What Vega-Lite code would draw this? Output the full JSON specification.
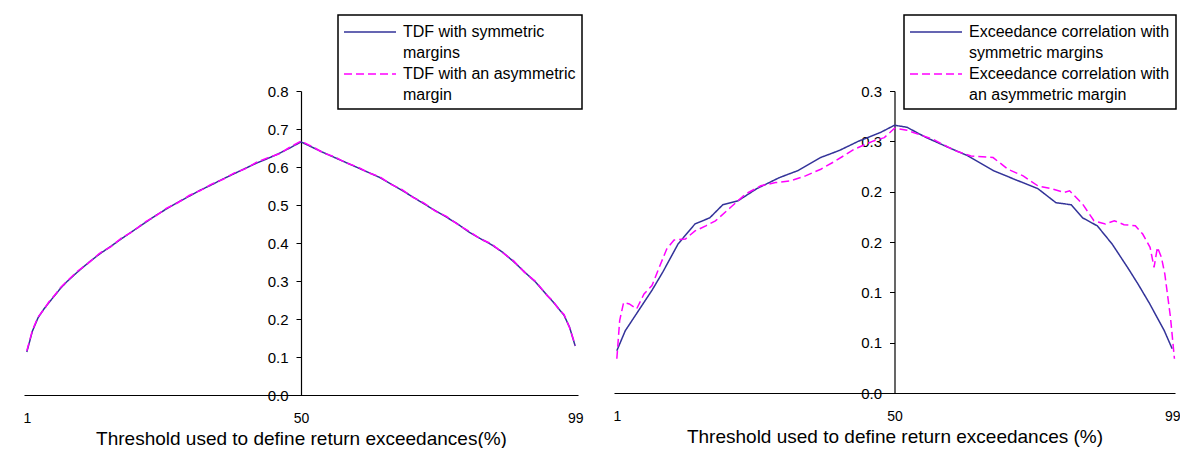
{
  "$schema": "https://vega.github.io/schema/vega-lite/v6.json",
  "background": "white",
  "padding": {"left": 22, "top": 14, "right": 0, "bottom": 0},
  "spacing": 36,
  "bounds": "flush",
  "resolve": {
    "scale": {"color": "independent", "strokeDash": "independent", "x": "independent", "y": "independent"},
    "legend": {"color": "independent", "strokeDash": "independent"}
  },
  "config": {
    "view": {"stroke": null},
    "font": "Liberation Sans",
    "style": {"guide-label": {"lineHeight": 21}},
    "axis": {
      "grid": false,
      "domainColor": "black",
      "domainWidth": 1.2,
      "tickColor": "black",
      "labelColor": "black",
      "labelFont": "Liberation Sans",
      "labelFontSize": 15,
      "titleFont": "Liberation Sans",
      "titleFontSize": 19,
      "titleFontWeight": "normal",
      "titleColor": "black"
    },
    "legend": {
      "orient": "none",
      "legendY": -76,
      "fillColor": "white",
      "strokeColor": "black",
      "strokeWidth": 1.5,
      "padding": 6,
      "symbolType": "M-2.6,0H2.6",
      "symbolSize": 400,
      "symbolOffset": 15,
      "symbolStrokeWidth": 1.5,
      "labelFont": "Liberation Sans",
      "labelFontSize": 16,
      "labelColor": "black",
      "labelOffset": 22,
      "labelLimit": 400,
      "rowPadding": 2,
      "title": null
    }
  },
  "datasets": {
    "tdf": [
      {"x": 1, "v": 0.113, "s": "TDF with symmetric|margins"},
      {"x": 2, "v": 0.168, "s": "TDF with symmetric|margins"},
      {"x": 3, "v": 0.203, "s": "TDF with symmetric|margins"},
      {"x": 4, "v": 0.225, "s": "TDF with symmetric|margins"},
      {"x": 5, "v": 0.244, "s": "TDF with symmetric|margins"},
      {"x": 6, "v": 0.262, "s": "TDF with symmetric|margins"},
      {"x": 7, "v": 0.280, "s": "TDF with symmetric|margins"},
      {"x": 8, "v": 0.296, "s": "TDF with symmetric|margins"},
      {"x": 10, "v": 0.323, "s": "TDF with symmetric|margins"},
      {"x": 12, "v": 0.348, "s": "TDF with symmetric|margins"},
      {"x": 14, "v": 0.371, "s": "TDF with symmetric|margins"},
      {"x": 16, "v": 0.391, "s": "TDF with symmetric|margins"},
      {"x": 18, "v": 0.412, "s": "TDF with symmetric|margins"},
      {"x": 20, "v": 0.432, "s": "TDF with symmetric|margins"},
      {"x": 22, "v": 0.452, "s": "TDF with symmetric|margins"},
      {"x": 24, "v": 0.472, "s": "TDF with symmetric|margins"},
      {"x": 26, "v": 0.490, "s": "TDF with symmetric|margins"},
      {"x": 28, "v": 0.507, "s": "TDF with symmetric|margins"},
      {"x": 30, "v": 0.523, "s": "TDF with symmetric|margins"},
      {"x": 32, "v": 0.539, "s": "TDF with symmetric|margins"},
      {"x": 34, "v": 0.553, "s": "TDF with symmetric|margins"},
      {"x": 36, "v": 0.568, "s": "TDF with symmetric|margins"},
      {"x": 38, "v": 0.582, "s": "TDF with symmetric|margins"},
      {"x": 40, "v": 0.596, "s": "TDF with symmetric|margins"},
      {"x": 42, "v": 0.610, "s": "TDF with symmetric|margins"},
      {"x": 44, "v": 0.622, "s": "TDF with symmetric|margins"},
      {"x": 46, "v": 0.635, "s": "TDF with symmetric|margins"},
      {"x": 48, "v": 0.650, "s": "TDF with symmetric|margins"},
      {"x": 50, "v": 0.666, "s": "TDF with symmetric|margins"},
      {"x": 52, "v": 0.652, "s": "TDF with symmetric|margins"},
      {"x": 54, "v": 0.638, "s": "TDF with symmetric|margins"},
      {"x": 56, "v": 0.625, "s": "TDF with symmetric|margins"},
      {"x": 58, "v": 0.612, "s": "TDF with symmetric|margins"},
      {"x": 60, "v": 0.599, "s": "TDF with symmetric|margins"},
      {"x": 62, "v": 0.586, "s": "TDF with symmetric|margins"},
      {"x": 64, "v": 0.573, "s": "TDF with symmetric|margins"},
      {"x": 66, "v": 0.556, "s": "TDF with symmetric|margins"},
      {"x": 68, "v": 0.539, "s": "TDF with symmetric|margins"},
      {"x": 70, "v": 0.521, "s": "TDF with symmetric|margins"},
      {"x": 72, "v": 0.503, "s": "TDF with symmetric|margins"},
      {"x": 74, "v": 0.485, "s": "TDF with symmetric|margins"},
      {"x": 76, "v": 0.468, "s": "TDF with symmetric|margins"},
      {"x": 78, "v": 0.450, "s": "TDF with symmetric|margins"},
      {"x": 80, "v": 0.429, "s": "TDF with symmetric|margins"},
      {"x": 82, "v": 0.412, "s": "TDF with symmetric|margins"},
      {"x": 84, "v": 0.396, "s": "TDF with symmetric|margins"},
      {"x": 86, "v": 0.376, "s": "TDF with symmetric|margins"},
      {"x": 88, "v": 0.351, "s": "TDF with symmetric|margins"},
      {"x": 90, "v": 0.323, "s": "TDF with symmetric|margins"},
      {"x": 92, "v": 0.296, "s": "TDF with symmetric|margins"},
      {"x": 94, "v": 0.262, "s": "TDF with symmetric|margins"},
      {"x": 95, "v": 0.246, "s": "TDF with symmetric|margins"},
      {"x": 96, "v": 0.228, "s": "TDF with symmetric|margins"},
      {"x": 97, "v": 0.210, "s": "TDF with symmetric|margins"},
      {"x": 98, "v": 0.178, "s": "TDF with symmetric|margins"},
      {"x": 99, "v": 0.129, "s": "TDF with symmetric|margins"},
      {"x": 1, "v": 0.116, "s": "TDF with an asymmetric|margin"},
      {"x": 2, "v": 0.170, "s": "TDF with an asymmetric|margin"},
      {"x": 3, "v": 0.205, "s": "TDF with an asymmetric|margin"},
      {"x": 4, "v": 0.224, "s": "TDF with an asymmetric|margin"},
      {"x": 5, "v": 0.246, "s": "TDF with an asymmetric|margin"},
      {"x": 6, "v": 0.263, "s": "TDF with an asymmetric|margin"},
      {"x": 7, "v": 0.282, "s": "TDF with an asymmetric|margin"},
      {"x": 8, "v": 0.297, "s": "TDF with an asymmetric|margin"},
      {"x": 10, "v": 0.325, "s": "TDF with an asymmetric|margin"},
      {"x": 12, "v": 0.347, "s": "TDF with an asymmetric|margin"},
      {"x": 14, "v": 0.373, "s": "TDF with an asymmetric|margin"},
      {"x": 16, "v": 0.390, "s": "TDF with an asymmetric|margin"},
      {"x": 18, "v": 0.414, "s": "TDF with an asymmetric|margin"},
      {"x": 20, "v": 0.431, "s": "TDF with an asymmetric|margin"},
      {"x": 22, "v": 0.454, "s": "TDF with an asymmetric|margin"},
      {"x": 24, "v": 0.471, "s": "TDF with an asymmetric|margin"},
      {"x": 26, "v": 0.492, "s": "TDF with an asymmetric|margin"},
      {"x": 28, "v": 0.506, "s": "TDF with an asymmetric|margin"},
      {"x": 30, "v": 0.525, "s": "TDF with an asymmetric|margin"},
      {"x": 32, "v": 0.538, "s": "TDF with an asymmetric|margin"},
      {"x": 34, "v": 0.555, "s": "TDF with an asymmetric|margin"},
      {"x": 36, "v": 0.567, "s": "TDF with an asymmetric|margin"},
      {"x": 38, "v": 0.584, "s": "TDF with an asymmetric|margin"},
      {"x": 40, "v": 0.595, "s": "TDF with an asymmetric|margin"},
      {"x": 42, "v": 0.612, "s": "TDF with an asymmetric|margin"},
      {"x": 44, "v": 0.624, "s": "TDF with an asymmetric|margin"},
      {"x": 46, "v": 0.634, "s": "TDF with an asymmetric|margin"},
      {"x": 48, "v": 0.652, "s": "TDF with an asymmetric|margin"},
      {"x": 50, "v": 0.668, "s": "TDF with an asymmetric|margin"},
      {"x": 52, "v": 0.654, "s": "TDF with an asymmetric|margin"},
      {"x": 54, "v": 0.637, "s": "TDF with an asymmetric|margin"},
      {"x": 56, "v": 0.627, "s": "TDF with an asymmetric|margin"},
      {"x": 58, "v": 0.611, "s": "TDF with an asymmetric|margin"},
      {"x": 60, "v": 0.601, "s": "TDF with an asymmetric|margin"},
      {"x": 62, "v": 0.585, "s": "TDF with an asymmetric|margin"},
      {"x": 64, "v": 0.575, "s": "TDF with an asymmetric|margin"},
      {"x": 66, "v": 0.555, "s": "TDF with an asymmetric|margin"},
      {"x": 68, "v": 0.541, "s": "TDF with an asymmetric|margin"},
      {"x": 70, "v": 0.520, "s": "TDF with an asymmetric|margin"},
      {"x": 72, "v": 0.505, "s": "TDF with an asymmetric|margin"},
      {"x": 74, "v": 0.484, "s": "TDF with an asymmetric|margin"},
      {"x": 76, "v": 0.470, "s": "TDF with an asymmetric|margin"},
      {"x": 78, "v": 0.449, "s": "TDF with an asymmetric|margin"},
      {"x": 80, "v": 0.431, "s": "TDF with an asymmetric|margin"},
      {"x": 82, "v": 0.411, "s": "TDF with an asymmetric|margin"},
      {"x": 84, "v": 0.398, "s": "TDF with an asymmetric|margin"},
      {"x": 86, "v": 0.375, "s": "TDF with an asymmetric|margin"},
      {"x": 88, "v": 0.353, "s": "TDF with an asymmetric|margin"},
      {"x": 90, "v": 0.322, "s": "TDF with an asymmetric|margin"},
      {"x": 92, "v": 0.298, "s": "TDF with an asymmetric|margin"},
      {"x": 94, "v": 0.261, "s": "TDF with an asymmetric|margin"},
      {"x": 95, "v": 0.248, "s": "TDF with an asymmetric|margin"},
      {"x": 96, "v": 0.227, "s": "TDF with an asymmetric|margin"},
      {"x": 97, "v": 0.212, "s": "TDF with an asymmetric|margin"},
      {"x": 98, "v": 0.177, "s": "TDF with an asymmetric|margin"},
      {"x": 99, "v": 0.131, "s": "TDF with an asymmetric|margin"}
    ],
    "exc": [
      {"x": 1, "v": 0.042, "s": "Exceedance correlation with|symmetric margins"},
      {"x": 2.5, "v": 0.062, "s": "Exceedance correlation with|symmetric margins"},
      {"x": 4.5, "v": 0.079, "s": "Exceedance correlation with|symmetric margins"},
      {"x": 7.2, "v": 0.102, "s": "Exceedance correlation with|symmetric margins"},
      {"x": 9.1, "v": 0.120, "s": "Exceedance correlation with|symmetric margins"},
      {"x": 11.8, "v": 0.148, "s": "Exceedance correlation with|symmetric margins"},
      {"x": 14.8, "v": 0.168, "s": "Exceedance correlation with|symmetric margins"},
      {"x": 17.4, "v": 0.174, "s": "Exceedance correlation with|symmetric margins"},
      {"x": 19.7, "v": 0.187, "s": "Exceedance correlation with|symmetric margins"},
      {"x": 22.4, "v": 0.191, "s": "Exceedance correlation with|symmetric margins"},
      {"x": 25.7, "v": 0.203, "s": "Exceedance correlation with|symmetric margins"},
      {"x": 29.7, "v": 0.214, "s": "Exceedance correlation with|symmetric margins"},
      {"x": 33, "v": 0.221, "s": "Exceedance correlation with|symmetric margins"},
      {"x": 37, "v": 0.234, "s": "Exceedance correlation with|symmetric margins"},
      {"x": 40.3, "v": 0.241, "s": "Exceedance correlation with|symmetric margins"},
      {"x": 43.6, "v": 0.250, "s": "Exceedance correlation with|symmetric margins"},
      {"x": 47.6, "v": 0.259, "s": "Exceedance correlation with|symmetric margins"},
      {"x": 50, "v": 0.266, "s": "Exceedance correlation with|symmetric margins"},
      {"x": 52.2, "v": 0.264, "s": "Exceedance correlation with|symmetric margins"},
      {"x": 55.5, "v": 0.254, "s": "Exceedance correlation with|symmetric margins"},
      {"x": 59.5, "v": 0.244, "s": "Exceedance correlation with|symmetric margins"},
      {"x": 62.8, "v": 0.236, "s": "Exceedance correlation with|symmetric margins"},
      {"x": 67.4, "v": 0.221, "s": "Exceedance correlation with|symmetric margins"},
      {"x": 71.3, "v": 0.212, "s": "Exceedance correlation with|symmetric margins"},
      {"x": 75.3, "v": 0.203, "s": "Exceedance correlation with|symmetric margins"},
      {"x": 78.5, "v": 0.189, "s": "Exceedance correlation with|symmetric margins"},
      {"x": 81.2, "v": 0.187, "s": "Exceedance correlation with|symmetric margins"},
      {"x": 83.2, "v": 0.174, "s": "Exceedance correlation with|symmetric margins"},
      {"x": 85.8, "v": 0.166, "s": "Exceedance correlation with|symmetric margins"},
      {"x": 88.4, "v": 0.148, "s": "Exceedance correlation with|symmetric margins"},
      {"x": 91.1, "v": 0.125, "s": "Exceedance correlation with|symmetric margins"},
      {"x": 93, "v": 0.108, "s": "Exceedance correlation with|symmetric margins"},
      {"x": 95, "v": 0.089, "s": "Exceedance correlation with|symmetric margins"},
      {"x": 97.6, "v": 0.062, "s": "Exceedance correlation with|symmetric margins"},
      {"x": 99, "v": 0.044, "s": "Exceedance correlation with|symmetric margins"},
      {"x": 1, "v": 0.034, "s": "Exceedance correlation with|an asymmetric margin"},
      {"x": 1.5, "v": 0.072, "s": "Exceedance correlation with|an asymmetric margin"},
      {"x": 2.2, "v": 0.090, "s": "Exceedance correlation with|an asymmetric margin"},
      {"x": 3.2, "v": 0.0885, "s": "Exceedance correlation with|an asymmetric margin"},
      {"x": 4.5, "v": 0.0836, "s": "Exceedance correlation with|an asymmetric margin"},
      {"x": 5.8, "v": 0.0984, "s": "Exceedance correlation with|an asymmetric margin"},
      {"x": 7.2, "v": 0.1067, "s": "Exceedance correlation with|an asymmetric margin"},
      {"x": 8.5, "v": 0.125, "s": "Exceedance correlation with|an asymmetric margin"},
      {"x": 9.8, "v": 0.143, "s": "Exceedance correlation with|an asymmetric margin"},
      {"x": 11.1, "v": 0.152, "s": "Exceedance correlation with|an asymmetric margin"},
      {"x": 13.1, "v": 0.153, "s": "Exceedance correlation with|an asymmetric margin"},
      {"x": 14.8, "v": 0.161, "s": "Exceedance correlation with|an asymmetric margin"},
      {"x": 16.7, "v": 0.166, "s": "Exceedance correlation with|an asymmetric margin"},
      {"x": 18.4, "v": 0.171, "s": "Exceedance correlation with|an asymmetric margin"},
      {"x": 21, "v": 0.184, "s": "Exceedance correlation with|an asymmetric margin"},
      {"x": 23.7, "v": 0.1976, "s": "Exceedance correlation with|an asymmetric margin"},
      {"x": 26.4, "v": 0.2058, "s": "Exceedance correlation with|an asymmetric margin"},
      {"x": 29, "v": 0.209, "s": "Exceedance correlation with|an asymmetric margin"},
      {"x": 31.7, "v": 0.2108, "s": "Exceedance correlation with|an asymmetric margin"},
      {"x": 34.3, "v": 0.2157, "s": "Exceedance correlation with|an asymmetric margin"},
      {"x": 37, "v": 0.2223, "s": "Exceedance correlation with|an asymmetric margin"},
      {"x": 39.6, "v": 0.2306, "s": "Exceedance correlation with|an asymmetric margin"},
      {"x": 42.9, "v": 0.2422, "s": "Exceedance correlation with|an asymmetric margin"},
      {"x": 46.3, "v": 0.2504, "s": "Exceedance correlation with|an asymmetric margin"},
      {"x": 48.2, "v": 0.2537, "s": "Exceedance correlation with|an asymmetric margin"},
      {"x": 50, "v": 0.263, "s": "Exceedance correlation with|an asymmetric margin"},
      {"x": 52.2, "v": 0.261, "s": "Exceedance correlation with|an asymmetric margin"},
      {"x": 56.8, "v": 0.252, "s": "Exceedance correlation with|an asymmetric margin"},
      {"x": 60.8, "v": 0.2405, "s": "Exceedance correlation with|an asymmetric margin"},
      {"x": 63.5, "v": 0.2355, "s": "Exceedance correlation with|an asymmetric margin"},
      {"x": 67.4, "v": 0.2339, "s": "Exceedance correlation with|an asymmetric margin"},
      {"x": 70, "v": 0.2223, "s": "Exceedance correlation with|an asymmetric margin"},
      {"x": 72.7, "v": 0.2157, "s": "Exceedance correlation with|an asymmetric margin"},
      {"x": 75.3, "v": 0.2058, "s": "Exceedance correlation with|an asymmetric margin"},
      {"x": 78, "v": 0.2025, "s": "Exceedance correlation with|an asymmetric margin"},
      {"x": 79.9, "v": 0.1992, "s": "Exceedance correlation with|an asymmetric margin"},
      {"x": 80.9, "v": 0.2009, "s": "Exceedance correlation with|an asymmetric margin"},
      {"x": 83.2, "v": 0.1876, "s": "Exceedance correlation with|an asymmetric margin"},
      {"x": 85.2, "v": 0.1711, "s": "Exceedance correlation with|an asymmetric margin"},
      {"x": 87.2, "v": 0.1678, "s": "Exceedance correlation with|an asymmetric margin"},
      {"x": 88.8, "v": 0.1711, "s": "Exceedance correlation with|an asymmetric margin"},
      {"x": 90.5, "v": 0.1672, "s": "Exceedance correlation with|an asymmetric margin"},
      {"x": 92.5, "v": 0.1662, "s": "Exceedance correlation with|an asymmetric margin"},
      {"x": 93.8, "v": 0.1579, "s": "Exceedance correlation with|an asymmetric margin"},
      {"x": 95.1, "v": 0.1447, "s": "Exceedance correlation with|an asymmetric margin"},
      {"x": 95.8, "v": 0.1249, "s": "Exceedance correlation with|an asymmetric margin"},
      {"x": 96.4, "v": 0.1447, "s": "Exceedance correlation with|an asymmetric margin"},
      {"x": 97.1, "v": 0.1348, "s": "Exceedance correlation with|an asymmetric margin"},
      {"x": 97.7, "v": 0.1183, "s": "Exceedance correlation with|an asymmetric margin"},
      {"x": 98.7, "v": 0.0753, "s": "Exceedance correlation with|an asymmetric margin"},
      {"x": 99.4, "v": 0.034, "s": "Exceedance correlation with|an asymmetric margin"}
    ]
  },
  "hconcat": [
    {
      "width": 554,
      "height": 304,
      "data": {"name": "tdf"},
      "mark": {"type": "line", "strokeWidth": 1.5, "clip": false},
      "encoding": {
        "x": {
          "field": "x", "type": "quantitative",
          "scale": {"domain": [0.5, 99.5], "nice": false, "zero": false},
          "axis": {"values": [1, 50, 99], "ticks": false, "labelFontSize": 14, "labelPadding": 16, "titlePadding": 4, "labelFlush": false, "title": "Threshold used to define return exceedances(%)"}
        },
        "y": {
          "field": "v", "type": "quantitative",
          "scale": {"domain": [0, 0.8], "nice": false},
          "axis": {"values": [0, 0.1, 0.2, 0.3, 0.4, 0.5, 0.6, 0.7, 0.8], "format": ".1f", "offset": -277, "tickSize": 5, "labelPadding": 8, "title": null}
        },
        "color": {
          "field": "s", "type": "nominal",
          "scale": {"domain": ["TDF with symmetric|margins", "TDF with an asymmetric|margin"], "range": ["#333399", "#ff00ff"]},
          "legend": {"legendX": 314, "labelExpr": "split(datum.label, '|')"}
        },
        "strokeDash": {
          "field": "s", "type": "nominal",
          "scale": {"domain": ["TDF with symmetric|margins", "TDF with an asymmetric|margin"], "range": [[1, 0], [8, 4]]},
          "legend": {"legendX": 314, "labelExpr": "split(datum.label, '|')"}
        },
        "order": {"field": "x", "type": "quantitative"}
      }
    },
    {
      "width": 561,
      "height": 302,
      "data": {"name": "exc"},
      "mark": {"type": "line", "strokeWidth": 1.5, "clip": false},
      "encoding": {
        "x": {
          "field": "x", "type": "quantitative",
          "scale": {"domain": [0.5, 99.5], "nice": false, "zero": false},
          "axis": {"values": [1, 50, 99], "ticks": false, "labelFontSize": 14, "labelPadding": 16, "titlePadding": 4, "labelFlush": false, "title": "Threshold used to define return exceedances (%)"}
        },
        "y": {
          "field": "v", "type": "quantitative",
          "scale": {"domain": [0, 0.3], "nice": false},
          "axis": {"values": [0, 0.05, 0.1, 0.15, 0.2, 0.25, 0.3], "labelExpr": "format(datum.value + 0.0001, '.1f')", "offset": -280.5, "tickSize": 5, "labelPadding": 8, "title": null}
        },
        "color": {
          "field": "s", "type": "nominal",
          "scale": {"domain": ["Exceedance correlation with|symmetric margins", "Exceedance correlation with|an asymmetric margin"], "range": ["#333399", "#ff00ff"]},
          "legend": {"legendX": 290, "labelExpr": "split(datum.label, '|')"}
        },
        "strokeDash": {
          "field": "s", "type": "nominal",
          "scale": {"domain": ["Exceedance correlation with|symmetric margins", "Exceedance correlation with|an asymmetric margin"], "range": [[1, 0], [8, 4]]},
          "legend": {"legendX": 290, "labelExpr": "split(datum.label, '|')"}
        },
        "order": {"field": "x", "type": "quantitative"}
      }
    }
  ]
}
